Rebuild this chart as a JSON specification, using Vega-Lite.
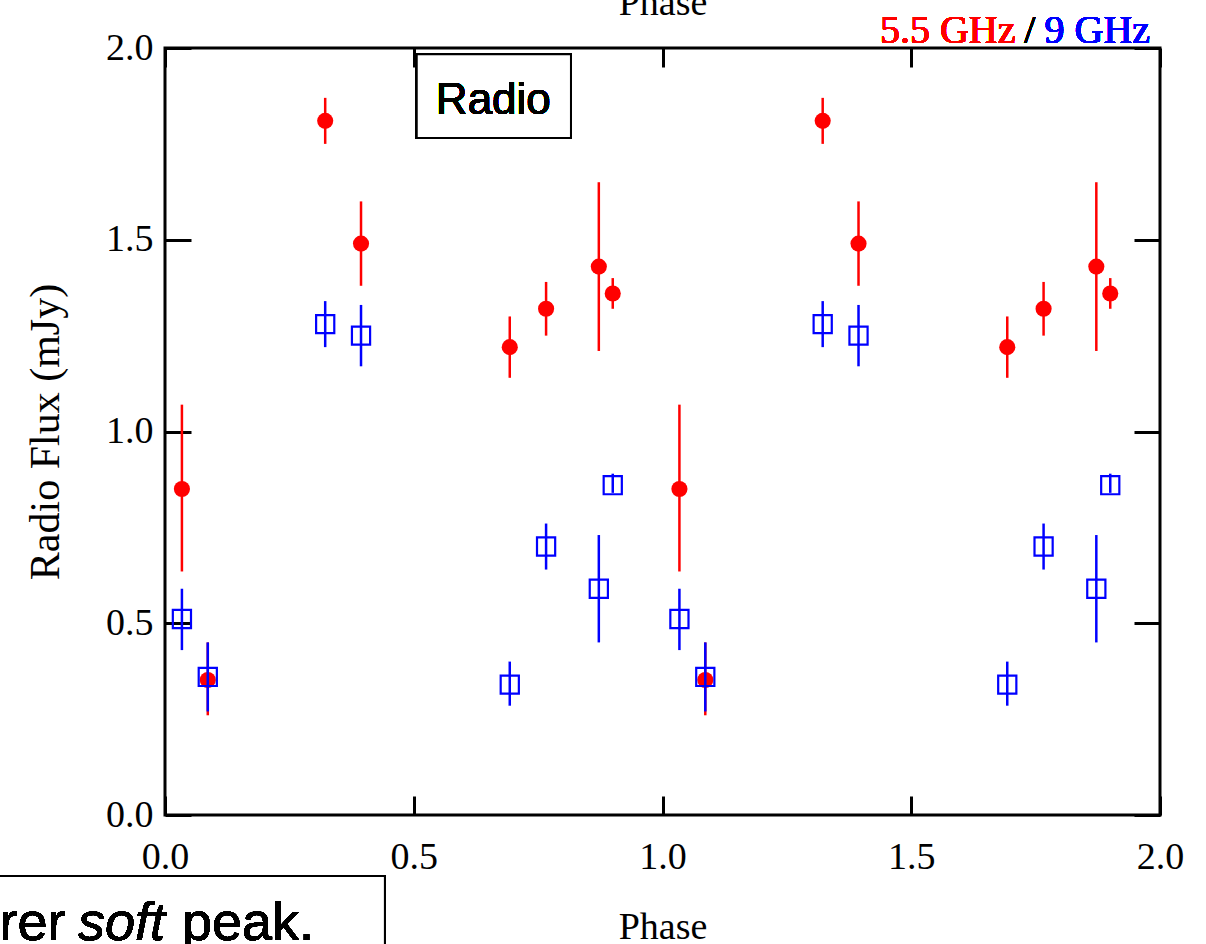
{
  "$schema": "https://vega.github.io/schema/vega-lite/v6.json",
  "width": 995,
  "height": 767,
  "autosize": {"type": "none"},
  "padding": {"left": 165, "top": 48, "right": 46, "bottom": 129},
  "background": "white",
  "config": {
    "view": {"stroke": "black", "strokeWidth": 3},
    "axis": {
      "grid": false,
      "domainColor": "black",
      "domainWidth": 3,
      "tickColor": "black",
      "tickWidth": 3,
      "labelFont": "Liberation Serif",
      "titleFont": "Liberation Serif",
      "labelColor": "black",
      "titleColor": "black",
      "titleFontWeight": "normal",
      "labelFontSize": 38,
      "titleFontSize": 38,
      "labelFlush": false
    }
  },
  "data": {
    "values": [
      {"band": "5.5 GHz", "phase": 0.034, "flux": 0.85, "lo": 0.635, "hi": 1.07},
      {"band": "5.5 GHz", "phase": 0.086, "flux": 0.352, "lo": 0.26, "hi": 0.45},
      {"band": "5.5 GHz", "phase": 0.322, "flux": 1.81, "lo": 1.75, "hi": 1.87},
      {"band": "5.5 GHz", "phase": 0.394, "flux": 1.49, "lo": 1.38, "hi": 1.6},
      {"band": "5.5 GHz", "phase": 0.693, "flux": 1.22, "lo": 1.14, "hi": 1.3},
      {"band": "5.5 GHz", "phase": 0.766, "flux": 1.32, "lo": 1.25, "hi": 1.39},
      {"band": "5.5 GHz", "phase": 0.872, "flux": 1.43, "lo": 1.21, "hi": 1.65},
      {"band": "5.5 GHz", "phase": 0.9, "flux": 1.36, "lo": 1.32, "hi": 1.4},
      {"band": "5.5 GHz", "phase": 1.034, "flux": 0.85, "lo": 0.635, "hi": 1.07},
      {"band": "5.5 GHz", "phase": 1.086, "flux": 0.352, "lo": 0.26, "hi": 0.45},
      {"band": "5.5 GHz", "phase": 1.322, "flux": 1.81, "lo": 1.75, "hi": 1.87},
      {"band": "5.5 GHz", "phase": 1.394, "flux": 1.49, "lo": 1.38, "hi": 1.6},
      {"band": "5.5 GHz", "phase": 1.693, "flux": 1.22, "lo": 1.14, "hi": 1.3},
      {"band": "5.5 GHz", "phase": 1.766, "flux": 1.32, "lo": 1.25, "hi": 1.39},
      {"band": "5.5 GHz", "phase": 1.872, "flux": 1.43, "lo": 1.21, "hi": 1.65},
      {"band": "5.5 GHz", "phase": 1.9, "flux": 1.36, "lo": 1.32, "hi": 1.4},
      {"band": "9 GHz", "phase": 0.034, "flux": 0.511, "lo": 0.43, "hi": 0.59},
      {"band": "9 GHz", "phase": 0.086, "flux": 0.36, "lo": 0.27, "hi": 0.45},
      {"band": "9 GHz", "phase": 0.322, "flux": 1.28, "lo": 1.22, "hi": 1.34},
      {"band": "9 GHz", "phase": 0.394, "flux": 1.25, "lo": 1.17, "hi": 1.33},
      {"band": "9 GHz", "phase": 0.693, "flux": 0.34, "lo": 0.285, "hi": 0.4},
      {"band": "9 GHz", "phase": 0.766, "flux": 0.7, "lo": 0.64, "hi": 0.76},
      {"band": "9 GHz", "phase": 0.872, "flux": 0.59, "lo": 0.45, "hi": 0.73},
      {"band": "9 GHz", "phase": 0.9, "flux": 0.86, "lo": 0.84, "hi": 0.89},
      {"band": "9 GHz", "phase": 1.034, "flux": 0.511, "lo": 0.43, "hi": 0.59},
      {"band": "9 GHz", "phase": 1.086, "flux": 0.36, "lo": 0.27, "hi": 0.45},
      {"band": "9 GHz", "phase": 1.322, "flux": 1.28, "lo": 1.22, "hi": 1.34},
      {"band": "9 GHz", "phase": 1.394, "flux": 1.25, "lo": 1.17, "hi": 1.33},
      {"band": "9 GHz", "phase": 1.693, "flux": 0.34, "lo": 0.285, "hi": 0.4},
      {"band": "9 GHz", "phase": 1.766, "flux": 0.7, "lo": 0.64, "hi": 0.76},
      {"band": "9 GHz", "phase": 1.872, "flux": 0.59, "lo": 0.45, "hi": 0.73},
      {"band": "9 GHz", "phase": 1.9, "flux": 0.86, "lo": 0.84, "hi": 0.89}
    ]
  },
  "layer": [
    {
      "mark": {"type": "rule", "opacity": 0},
      "encoding": {
        "x": {
          "field": "phase", "type": "quantitative",
          "scale": {"domain": [0, 2], "nice": false, "zero": false},
          "axis": {"orient": "top", "labels": false, "title": "Phase", "values": [0, 0.5, 1, 1.5, 2], "tickSize": -19, "titlePadding": 24, "domain": false}
        },
        "y": {
          "field": "flux", "type": "quantitative",
          "scale": {"domain": [0, 2], "nice": false, "zero": false},
          "axis": {"orient": "right", "labels": false, "title": null, "values": [0, 0.5, 1, 1.5, 2], "tickSize": -26, "domain": false}
        }
      }
    },
    {
      "transform": [{"filter": "datum.band === '5.5 GHz'"}],
      "mark": {"type": "rule", "color": "#ff0000", "strokeWidth": 2.5},
      "encoding": {
        "x": {
          "field": "phase", "type": "quantitative",
          "axis": {"orient": "bottom", "title": "Phase", "values": [0, 0.5, 1, 1.5, 2], "format": ".1f", "tickSize": -19, "labelPadding": 42, "titlePadding": 32, "domain": false}
        },
        "y": {
          "field": "lo", "type": "quantitative",
          "axis": {"orient": "left", "title": "Radio Flux (mJy)", "values": [0, 0.5, 1, 1.5, 2], "format": ".1f", "tickSize": -26, "labelPadding": 38, "titlePadding": 38, "titleFontSize": 42, "domain": false}
        },
        "y2": {"field": "hi"}
      }
    },
    {
      "transform": [{"filter": "datum.band === '5.5 GHz'"}],
      "mark": {"type": "point", "shape": "circle", "filled": true, "color": "#ff0000", "size": 260, "opacity": 1},
      "encoding": {
        "x": {"field": "phase", "type": "quantitative", "axis": null},
        "y": {"field": "flux", "type": "quantitative", "axis": null}
      }
    },
    {
      "transform": [{"filter": "datum.band === '9 GHz'"}],
      "mark": {"type": "rule", "color": "#0000ff", "strokeWidth": 2.5},
      "encoding": {
        "x": {"field": "phase", "type": "quantitative", "axis": null},
        "y": {"field": "lo", "type": "quantitative", "axis": null},
        "y2": {"field": "hi"}
      }
    },
    {
      "transform": [{"filter": "datum.band === '9 GHz'"}],
      "mark": {"type": "point", "shape": "square", "filled": false, "color": "#0000ff", "size": 330, "strokeWidth": 2.2, "opacity": 1},
      "encoding": {
        "x": {"field": "phase", "type": "quantitative", "axis": null},
        "y": {"field": "flux", "type": "quantitative", "axis": null}
      }
    },
    {
      "mark": {"type": "rect", "fill": "white", "stroke": "black", "strokeWidth": 2},
      "encoding": {
        "x": {"datum": 0.506, "type": "quantitative", "axis": null},
        "x2": {"datum": 0.816},
        "y": {"datum": 1.984, "type": "quantitative", "axis": null},
        "y2": {"datum": 1.765}
      }
    },
    {
      "mark": {"type": "text", "text": "Radio", "font": "Liberation Sans", "fontSize": 44, "align": "center", "baseline": "alphabetic", "fill": "black", "strokeWidth": 0},
      "encoding": {
        "x": {"datum": 0.66, "type": "quantitative", "axis": null},
        "y": {"datum": 1.828, "type": "quantitative", "axis": null}
      }
    },
    {
      "mark": {"type": "text", "text": "5.5 GHz", "font": "Liberation Serif", "fontSize": 40, "align": "left", "baseline": "alphabetic", "fill": "#ff0000", "strokeWidth": 0},
      "encoding": {
        "x": {"datum": 1.437, "type": "quantitative", "axis": null},
        "y": {"datum": 2.013, "type": "quantitative", "axis": null}
      }
    },
    {
      "mark": {"type": "text", "text": "/", "font": "Liberation Serif", "fontSize": 40, "align": "left", "baseline": "alphabetic", "fill": "black", "strokeWidth": 0},
      "encoding": {
        "x": {"datum": 1.727, "type": "quantitative", "axis": null},
        "y": {"datum": 2.013, "type": "quantitative", "axis": null}
      }
    },
    {
      "mark": {"type": "text", "text": "9 GHz", "font": "Liberation Serif", "fontSize": 40, "align": "right", "baseline": "alphabetic", "fill": "#0000ff", "strokeWidth": 0},
      "encoding": {
        "x": {"datum": 1.98, "type": "quantitative", "axis": null},
        "y": {"datum": 2.013, "type": "quantitative", "axis": null}
      }
    },
    {
      "mark": {"type": "rect", "fill": "white", "stroke": "black", "strokeWidth": 2},
      "encoding": {
        "x": {"datum": -0.5, "type": "quantitative", "axis": null},
        "x2": {"datum": 0.442},
        "y": {"datum": -0.159, "type": "quantitative", "axis": null},
        "y2": {"datum": -0.5}
      }
    },
    {
      "mark": {"type": "text", "text": "rer", "font": "Liberation Sans", "fontSize": 54, "align": "right", "baseline": "alphabetic", "fill": "black", "strokeWidth": 0},
      "encoding": {
        "x": {"datum": -0.2, "type": "quantitative", "axis": null},
        "y": {"datum": -0.326, "type": "quantitative", "axis": null}
      }
    },
    {
      "mark": {"type": "text", "text": "soft", "font": "Liberation Sans", "fontStyle": "italic", "fontSize": 54, "align": "left", "baseline": "alphabetic", "fill": "black", "strokeWidth": 0},
      "encoding": {
        "x": {"datum": -0.175, "type": "quantitative", "axis": null},
        "y": {"datum": -0.326, "type": "quantitative", "axis": null}
      }
    },
    {
      "mark": {"type": "text", "text": "peak.", "font": "Liberation Sans", "fontSize": 54, "align": "left", "baseline": "alphabetic", "fill": "black", "strokeWidth": 0},
      "encoding": {
        "x": {"datum": 0.034, "type": "quantitative", "axis": null},
        "y": {"datum": -0.326, "type": "quantitative", "axis": null}
      }
    }
  ],
  "resolve": {"axis": {"x": "independent", "y": "independent"}}
}
